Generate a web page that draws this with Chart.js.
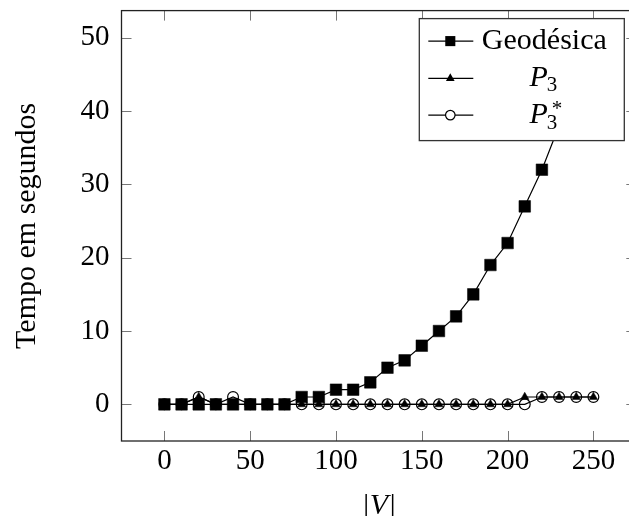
<!DOCTYPE html>
<html lang="pt">

<head>
    <meta charset="UTF-8" />
    <meta name="viewport" content="width=device-width, initial-scale=1.0" />
    <title>Tempo em segundos por |V|</title>
    <script src="https://cdn.jsdelivr.net/npm/chart.js@4.4.0/dist/chart.umd.min.js"></script>
    <style type="text/css">
        html, body {
            margin: 0;
            padding: 0;
            overflow: hidden;
            background: #fff;
        }
        .chartBox {
            width: 645px;
            height: 530px;
        }
    </style>
</head>

<body>
    <div class="chartBox">
        <canvas id="myChart" width="645" height="530"></canvas>
    </div>

    <script>
        // values
        const vertices = [0, 10, 20, 30, 40, 50, 60, 70, 80, 90, 100, 110, 120, 130, 140, 150, 160, 170, 180, 190, 200, 210, 220, 230, 240, 250];
        const geodesica = [0, 0, 0, 0, 0, 0, 0, 0, 1, 1, 2, 2, 3, 5, 6, 8, 10, 12, 15, 19, 22, 27, 32, 38, 45, 51];
        const p3 = [0, 0, 1, 0, 0, 0, 0, 0, 0, 0, 0, 0, 0, 0, 0, 0, 0, 0, 0, 0, 0, 1, 1, 1, 1, 1];
        const p3star = [0, 0, 1, 0, 1, 0, 0, 0, 0, 0, 0, 0, 0, 0, 0, 0, 0, 0, 0, 0, 0, 0, 1, 1, 1, 1];
        const xTicks = [0, 50, 100, 150, 200, 250];
        const yTicks = [0, 10, 20, 30, 40, 50];

        const serif = '"Liberation Serif", "Times New Roman", serif';

        function toPoints(ys) {
            return vertices.map((v, i) => ({ x: v, y: ys[i] }));
        }

        // keep the plot area exactly where the layout padding puts it
        function noEdgePadding(s) {
            s.paddingTop = 0;
            s.paddingBottom = 0;
            s.paddingLeft = 0;
            s.paddingRight = 0;
        }

        // small marker for the legend box
        function drawMark(ctx, style, x, y, k) {
            ctx.beginPath();
            ctx.lineWidth = 1.2;
            ctx.strokeStyle = '#000';
            if (style === 'rect') {
                const s = 5.6 * k;
                ctx.rect(x - s, y - s, 2 * s, 2 * s);
                ctx.fillStyle = '#000';
                ctx.fill();
            } else if (style === 'triangle') {
                const r = 4.8 * k;
                ctx.moveTo(x, y - r);
                ctx.lineTo(x + r * 0.866, y + r / 2);
                ctx.lineTo(x - r * 0.866, y + r / 2);
                ctx.closePath();
                ctx.fillStyle = '#000';
                ctx.fill();
            } else {
                ctx.arc(x, y, 5.3 * k, 0, Math.PI * 2);
                ctx.fillStyle = '#fff';
                ctx.fill();
                ctx.stroke();
            }
        }

        // P with subscript 3 (and optional star)
        function drawP3(ctx, cx, base, star) {
            const big = 'italic 30px ' + serif;
            const small = '21px ' + serif;
            ctx.font = big;
            const wP = ctx.measureText('P').width;
            ctx.font = small;
            const w3 = ctx.measureText('3').width;
            const x = cx - (wP + w3) / 2;
            ctx.textAlign = 'left';
            ctx.textBaseline = 'alphabetic';
            ctx.fillStyle = '#000';
            ctx.font = big;
            ctx.fillText('P', x, base);
            ctx.font = small;
            ctx.fillText('3', x + wP - 1, base + (star ? 6 : 4.3));
            if (star) ctx.fillText('*', x + wP + 4, base - 8);
        }

        const frameAndLegend = {
            id: 'frameAndLegend',
            afterDatasetsDraw(chart) {
                const ctx = chart.ctx;
                const a = chart.chartArea;
                const xs = chart.scales.x;
                const ys = chart.scales.y;
                ctx.save();

                // tick marks pointing inwards on all four sides
                ctx.strokeStyle = '#777';
                ctx.lineWidth = 1;
                ctx.beginPath();
                xTicks.forEach(v => {
                    const px = Math.round(xs.getPixelForValue(v)) + 0.5;
                    ctx.moveTo(px, a.bottom); ctx.lineTo(px, a.bottom - 10);
                    ctx.moveTo(px, a.top); ctx.lineTo(px, a.top + 10);
                });
                yTicks.forEach(v => {
                    const py = Math.round(ys.getPixelForValue(v)) + 0.5;
                    ctx.moveTo(a.left, py); ctx.lineTo(a.left + 10, py);
                    ctx.moveTo(a.right, py); ctx.lineTo(a.right - 10, py);
                });
                ctx.stroke();

                // axis frame
                ctx.strokeStyle = '#222';
                ctx.lineWidth = 1.3;
                ctx.strokeRect(a.left, a.top, a.right - a.left, a.bottom - a.top);

                // legend box, north east
                const w = 205, h = 122;
                const x0 = a.right - 12 - w;
                const y0 = a.top + 8;
                ctx.fillStyle = '#fff';
                ctx.fillRect(x0, y0, w, h);
                ctx.strokeStyle = '#333';
                ctx.lineWidth = 1.3;
                ctx.strokeRect(x0, y0, w, h);

                const rows = [
                    { style: 'rect', dy: 22.5 },
                    { style: 'triangle', dy: 59.8 },
                    { style: 'circle', dy: 96.5 }
                ];
                rows.forEach((row, i) => {
                    const cy = y0 + row.dy;
                    ctx.beginPath();
                    ctx.strokeStyle = '#000';
                    ctx.lineWidth = 1.2;
                    ctx.moveTo(x0 + 9, cy);
                    ctx.lineTo(x0 + 54, cy);
                    ctx.stroke();
                    drawMark(ctx, row.style, x0 + 31, cy, row.style === 'triangle' ? 1.05 : 0.9);
                    if (i === 0) {
                        ctx.font = '30px ' + serif;
                        ctx.fillStyle = '#000';
                        ctx.textAlign = 'center';
                        ctx.textBaseline = 'alphabetic';
                        ctx.fillText('Geodésica', x0 + 125, cy + 8.3);
                    } else {
                        drawP3(ctx, x0 + 124.5, cy + 7.8, i === 2);
                    }
                });
                ctx.restore();
            }
        };

        window.addEventListener('load', setup);

        function setup() {
            Chart.defaults.font.family = serif;
            Chart.defaults.color = '#000';
            const ctx = document.getElementById('myChart').getContext('2d');
            const myChart = new Chart(ctx, {
                type: 'line',
                data: {
                    datasets: [{
                        label: 'Geodésica',
                        data: toPoints(geodesica),
                        order: 3,
                        fill: false,
                        tension: 0,
                        borderColor: '#000',
                        borderWidth: 1.2,
                        pointStyle: 'rect',
                        pointRadius: 8.2,
                        pointBackgroundColor: '#000',
                        pointBorderColor: '#000',
                        pointBorderWidth: 0.5
                    }, {
                        label: 'P3',
                        data: toPoints(p3),
                        order: 2,
                        fill: false,
                        tension: 0,
                        borderColor: '#000',
                        borderWidth: 1.2,
                        pointStyle: 'triangle',
                        pointRadius: 4.8,
                        pointBackgroundColor: '#000',
                        pointBorderColor: '#000',
                        pointBorderWidth: 0.5
                    }, {
                        label: 'P3*',
                        data: toPoints(p3star),
                        order: 1,
                        fill: false,
                        tension: 0,
                        borderColor: '#000',
                        borderWidth: 1.2,
                        pointStyle: 'circle',
                        pointRadius: 5.4,
                        pointBackgroundColor: 'rgba(0, 0, 0, 0)',
                        pointBorderColor: '#000',
                        pointBorderWidth: 1.2
                    }]
                },
                options: {
                    responsive: false,
                    animation: false,
                    devicePixelRatio: 1,
                    layout: {
                        padding: { top: 10.6, right: 5, bottom: 0, left: 0 }
                    },
                    plugins: {
                        legend: { display: false },
                        tooltip: { enabled: false }
                    },
                    scales: {
                        x: {
                            type: 'linear',
                            min: -25,
                            max: 275,
                            afterBuildTicks: s => { s.ticks = xTicks.map(v => ({ value: v })); },
                            afterFit: s => { s.height = 89; noEdgePadding(s); },
                            grid: { display: false, drawTicks: false },
                            border: { display: false },
                            ticks: { padding: 3, autoSkip: false, maxRotation: 0, font: { size: 29 } },
                            title: {
                                display: true,
                                text: '|V|',
                                font: { size: 30, style: 'italic' },
                                padding: { top: 0, bottom: 6 }
                            }
                        },
                        y: {
                            type: 'linear',
                            min: -5,
                            max: 53.7,
                            afterBuildTicks: s => { s.ticks = yTicks.map(v => ({ value: v })); },
                            afterFit: s => { s.width = 121.5; noEdgePadding(s); },
                            grid: { display: false, drawTicks: false },
                            border: { display: false },
                            ticks: { padding: 12, font: { size: 29 } },
                            title: {
                                display: true,
                                text: 'Tempo em segundos',
                                font: { size: 30 },
                                padding: { top: 9, bottom: 0 }
                            }
                        }
                    }
                },
                plugins: [frameAndLegend]
            });
        }
    </script>
</body>

</html>
